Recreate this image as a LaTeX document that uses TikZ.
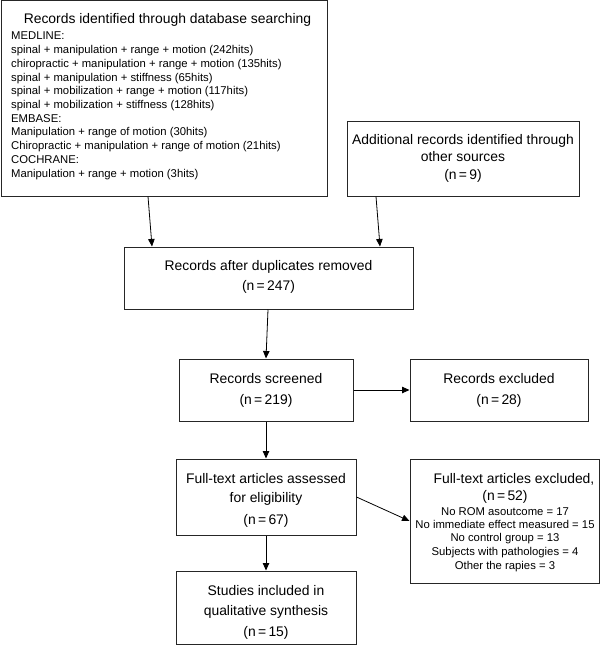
\documentclass[tikz,border=0pt]{standalone}
\usepackage{fontspec}
\setmainfont{Liberation Sans}
\usetikzlibrary{arrows.meta}
\begin{document}
\begin{tikzpicture}[x=1pt,y=-1pt,
  box/.style={draw=black!85, line width=1pt, inner sep=0pt, rectangle},
  big/.style={font=\fontsize{13.9}{16}\selectfont, inner sep=0pt, anchor=base},
  small/.style={font=\fontsize{11.3}{13}\selectfont, inner sep=0pt, anchor=base},
  arr/.style={-{Triangle[length=7.5pt,width=6.5pt]}, line width=0.8pt, black}]
\useasboundingbox (0,0) rectangle (600,647);

% boxes
\node[box, minimum width=326pt, minimum height=195pt] (b1) at (164,98.5) {};
\node[box, minimum width=232pt, minimum height=74pt] (b2) at (463,159) {};
\node[box, minimum width=289pt, minimum height=62pt] (b3) at (268.5,278) {};
\node[box, minimum width=174pt, minimum height=62pt] (b4) at (266,390) {};
\node[box, minimum width=178pt, minimum height=62pt] (b5) at (499,390) {};
\node[box, minimum width=180pt, minimum height=76pt] (b6) at (266,497) {};
\node[box, minimum width=180pt, minimum height=73pt] (b7) at (266,607.5) {};
\node[box, minimum width=189pt, minimum height=124pt] (b8) at (504.5,521) {};

% box 1 text
\node[big] (t1) at (167.5,24) {Records identified through database searching};
\foreach \txt [count=\i from 0] in {MEDLINE:,
  spinal + manipulation + range + motion (242hits),
  chiropractic + manipulation + range + motion (135hits),
  spinal + manipulation + stiffness (65hits),
  spinal + mobilization + range + motion (117hits),
  spinal + mobilization + stiffness (128hits),
  EMBASE:,
  Manipulation + range of motion (30hits),
  Chiropractic + manipulation + range of motion (21hits),
  COCHRANE:,
  Manipulation + range + motion (3hits)}
  \node[small, anchor=base west] (l\i) at (11,{40+13.7*\i}) {\txt};

% box 2 text
\node[big] (t2a) at (463,145) {Additional records identified through};
\node[big] (t2b) at (463,162) {other sources};
\node[big] (t2c) at (463,179) {(n\,=\,9)};

% box 3 text
\node[big] (t3a) at (268.5,270) {Records after duplicates removed};
\node[big] (t3b) at (268.5,290) {(n\,=\,247)};

% box 4 text
\node[big] (t4a) at (266,383) {Records screened};
\node[big] (t4b) at (266,404) {(n\,=\,219)};

% box 5 text
\node[big] (t5a) at (499,383) {Records excluded};
\node[big] (t5b) at (499,404) {(n\,=\,28)};

% box 6 text
\node[big] (t6a) at (266,483) {Full-text articles assessed};
\node[big] (t6b) at (266,502) {for eligibility};
\node[big] (t6c) at (266,524) {(n\,=\,67)};

% box 7 text
\node[big] (t7a) at (266,595) {Studies included in};
\node[big] (t7b) at (266,615) {qualitative synthesis};
\node[big] (t7c) at (266,636) {(n\,=\,15)};

% box 8 text
\node[big] (t8a) at (514,483) {Full-text articles excluded,};
\node[big] (t8b) at (505,500) {(n\,=\,52)};
\node[small] (t8c) at (505,515) {No ROM asoutcome = 17};
\node[small] (t8d) at (505,528) {No immediate effect measured = 15};
\node[small] (t8e) at (505,541.5) {No control group = 13};
\node[small] (t8f) at (505,555) {Subjects with pathologies = 4};
\node[small] (t8g) at (505,569) {Other the rapies = 3};

% connectors
\draw[arr] ([xshift=-16pt]b1.south) -- ([xshift=-116.5pt]b3.north);
\draw[arr] ([xshift=-87pt]b2.south) -- ([xshift=111.5pt]b3.north);
\draw[arr] ([xshift=-0.5pt]b3.south) -- (b4.north);
\draw[arr] (b4.east) -- (b5.west);
\draw[arr] (b4.south) -- (b6.north);
\draw[arr] (b6.south) -- (b7.north);
\draw[arr] (b6.east) -- (b8.west);
\end{tikzpicture}
\end{document}
